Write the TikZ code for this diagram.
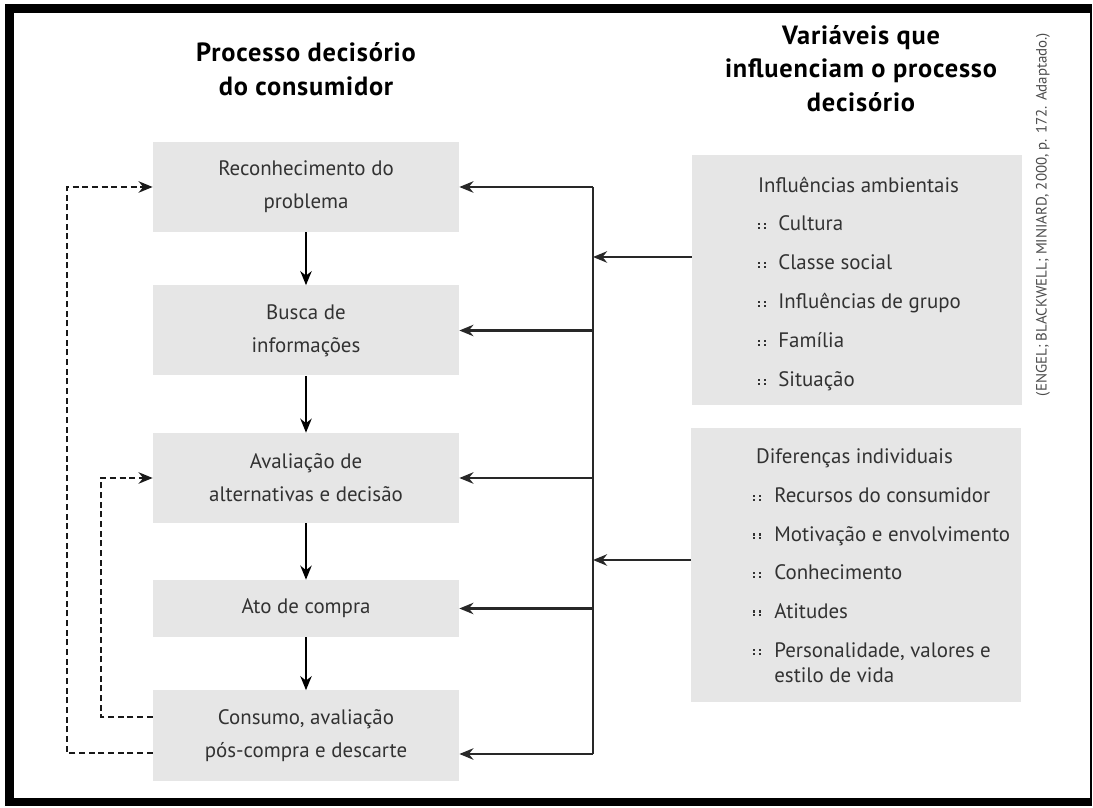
\documentclass[tikz,border=0pt]{standalone}
\usepackage{fontspec}
\setmainfont{PT Sans}
\usetikzlibrary{arrows.meta,positioning,calc}
\definecolor{bx}{RGB}{230,230,230}
\definecolor{tx}{RGB}{50,50,50}
\definecolor{ln}{RGB}{40,40,40}
\definecolor{dl}{RGB}{25,25,25}

\begin{document}
\begin{tikzpicture}[>={Stealth[length=8pt,width=6.5pt]},
    stage/.style={fill=bx, minimum width=6.12cm, minimum height=1.8cm,
        inner sep=0pt, align=center, text=tx,
        font=\fontsize{11.9}{18.9}\selectfont},
    group/.style={fill=bx, minimum width=6.6cm, inner sep=0pt},
    head/.style={text=tx, anchor=base, inner sep=0pt,
        font=\fontsize{11.9}{18.9}\selectfont},
    item/.style={text=tx, anchor=base west, inner sep=0pt, align=left,
        font=\fontsize{11.9}{14.2}\selectfont},
    title/.style={align=center,
        font=\fontsize{15}{19.2}\selectfont\bfseries\addfontfeature{LetterSpace=3}},
    quad/.pic={\foreach \u in {0,0.115}\foreach \v in {0,0.075}
        \fill[tx] (\u,\v) rectangle ++(0.045,0.045);},
    flow/.style={->, line width=0.9pt, black},
    bus/.style={line width=1.6pt, ln},
    fb/.style={line width=1.2pt, dl, dash pattern=on 3.5pt off 2pt}]

\useasboundingbox (0,0) rectangle (21.86,16.14);

% ── frame ──
\fill[black] (0.10,0.02) rectangle (21.84,16.06);
\fill[white] (0.28,0.18) rectangle (21.80,15.88);

% ════════════════════════════════════════════════
%  LEFT — decision stages
% ════════════════════════════════════════════════
\node[title] (tL) at (6.12,14.76) {Processo decisório\\do consumidor};

\node[stage] (b1) at (6.12,12.40) {Reconhecimento do\\problema};
\node[stage] (b2) at (6.12,9.53) {Busca de\\informações};
\node[stage] (b3) at (6.12,6.58) {Avaliação de\\alternativas e decisão};
\node[stage, minimum height=1.14cm] (b4) at (6.12,3.97) {Ato de compra};
\node[stage] (b5) at (6.12,1.43) {Consumo, avaliação\\pós-compra e descarte};

\draw[flow] (b1) -- (b2);
\draw[flow] (b2) -- (b3);
\draw[flow] (b3) -- (b4);
\draw[flow] (b4) -- (b5);

% feedback loops (dashed)
\coordinate (fbO) at (1.34,0);
\coordinate (fbI) at (2.02,0);
\coordinate (o5) at ([yshift=-0.35cm]b5.west);
\coordinate (i5) at ([yshift=0.37cm]b5.west);
\draw[fb,->] (o5) -- (o5 -| fbO) -- (b1.west -| fbO) -- (b1.west);
\draw[fb,->] (i5) -- (i5 -| fbI) -- (b3.west -| fbI) -- (b3.west);

% ════════════════════════════════════════════════
%  RIGHT — influencing variables
% ════════════════════════════════════════════════
\node[title] (tR) at (17.22,14.77) {Variáveis que\\influenciam o processo\\decisório};

\node[group, minimum height=5.0cm] (gA) at (17.14,10.54) {};
\node[head] (hA) at (17.17,12.28) {Influências ambientais};
\foreach \t [count=\i] in {Cultura, Classe social, Influências de grupo,
        Família, Situação}{
    \pic (uA\i) at (15.16,{11.56-0.78*(\i-1)}) {quad};
    \node[item] (iA\i) at (15.56,{11.52-0.78*(\i-1)}) {\t};
}

\node[group, minimum height=5.48cm] (gB) at (17.12,4.84) {};
\node[head] (hB) at (17.09,6.86) {Diferenças individuais};
\foreach \t [count=\i] in {Recursos do consumidor, Motivação e envolvimento,
        Conhecimento, Atitudes}{
    \pic (uB\i) at (15.06,{6.12-0.77*(\i-1)}) {quad};
    \node[item] (iB\i) at (15.48,{6.08-0.77*(\i-1)}) {\t};
}
\pic (uB5) at (15.06,3.04) {quad};
\node[item, anchor=north west] (iB5) at (15.48,3.30)
    {Personalidade, valores e\\estilo de vida};

% source note
\node[rotate=90, text=black!70, font=\fontsize{8.5}{10}\selectfont] (src)
    at (20.86,11.85) {(ENGEL; BLACKWELL; MINIARD, 2000, p. 172. Adaptado.)};

% ════════════════════════════════════════════════
%  bus connecting variables to stages
% ════════════════════════════════════════════════
\coordinate (busX) at (11.86,0);
\coordinate (busB) at (11.86,1.06);
\draw[bus] (b1.east -| busX) -- (busB);
\draw[bus,->] (b1.east -| busX) -- (b1.east);
\draw[bus,->] (b2.east -| busX) -- (b2.east);
\draw[bus,->] (b3.east -| busX) -- (b3.east);
\draw[bus,->] (b4.east -| busX) -- (b4.east);
\draw[bus,->] (busB) -- (busB -| b5.east);
\draw[bus,->] ([yshift=0.46cm]gA.west) -- ([yshift=0.46cm]gA.west -| busX);
\draw[bus,->] ([yshift=0.10cm]gB.west) -- ([yshift=0.10cm]gB.west -| busX);

\end{tikzpicture}
\end{document}
